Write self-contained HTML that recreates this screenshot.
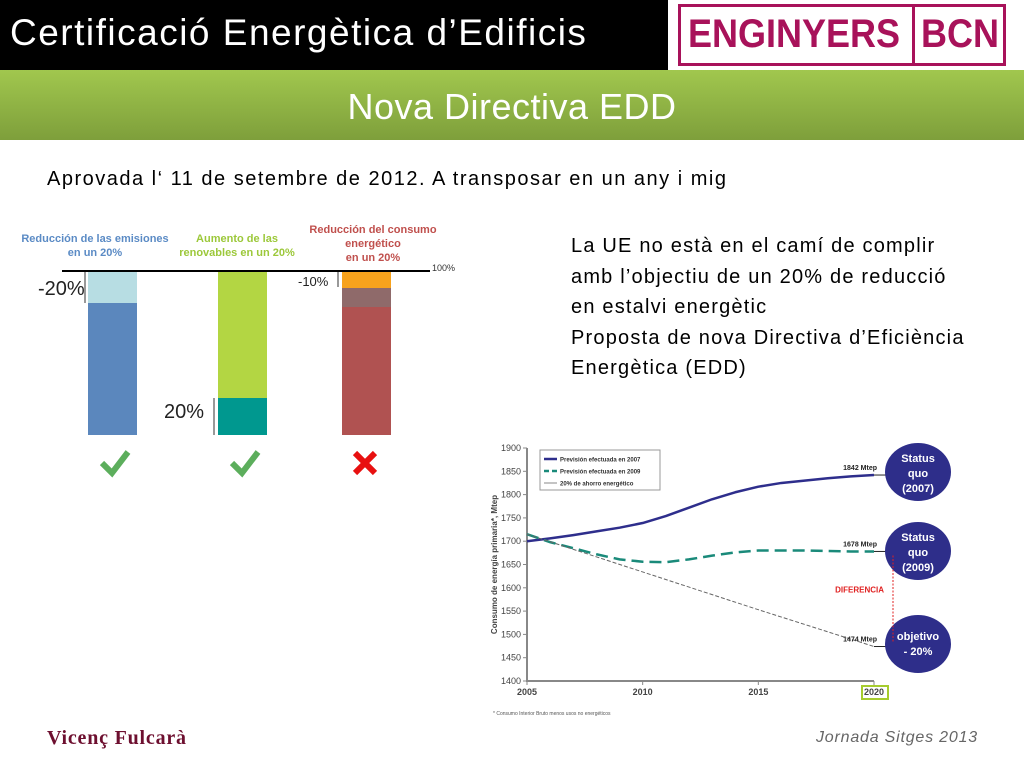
<!DOCTYPE html>
<html><head><meta charset="utf-8"><style>
body{margin:0;width:1024px;height:768px;position:relative;background:#fff;overflow:hidden;font-family:"Liberation Sans",sans-serif}
.abs{position:absolute}
</style></head><body>
<div class="abs" style="left:0;top:0;width:668px;height:70px;background:#000"></div>
<div class="abs" style="left:10px;top:12px;color:#fff;font-size:37px;letter-spacing:1.5px;white-space:nowrap">Certificació Energètica d’Edificis</div>
<div class="abs" style="left:678px;top:4px;width:328px;height:62px;border:3px solid #a8125a;box-sizing:border-box"></div>
<div class="abs" style="left:912px;top:4px;width:3px;height:62px;background:#a8125a"></div>
<div class="abs" style="left:688px;top:12px;color:#a8125a;font-weight:bold;font-size:40px;font-family:'Liberation Sans Narrow','Liberation Sans',sans-serif;transform:scaleX(0.9);transform-origin:left">ENGINYERS</div>
<div class="abs" style="left:921px;top:12px;color:#a8125a;font-weight:bold;font-size:40px;font-family:'Liberation Sans Narrow','Liberation Sans',sans-serif;transform:scaleX(0.9);transform-origin:left">BCN</div>
<div class="abs" style="left:0;top:70px;width:1024px;height:70px;background:linear-gradient(#a1c74e,#7e9f3b)"></div>
<div class="abs" style="left:0;top:86px;width:1024px;text-align:center;color:#fff;font-size:36px;letter-spacing:0.5px">Nova Directiva EDD</div>
<div class="abs" style="left:47px;top:168px;font-size:20px;letter-spacing:1.5px;white-space:nowrap;color:#000">Aprovada l‘ 11 de setembre de 2012. A transposar en un any i mig</div>
<div class="abs" style="left:571px;top:231px;font-size:20px;letter-spacing:1.2px;line-height:30.5px;white-space:nowrap;color:#000">La UE no està en el camí de complir<br>amb l’objectiu de un 20% de reducció<br>en estalvi energètic<br>Proposta de nova Directiva d’Eficiència<br>Energètica (EDD)</div>

<svg class="abs" style="left:0;top:215px" width="470" height="270" font-family="Liberation Sans, sans-serif" font-weight="bold">
<text x="95" y="27" font-size="11" fill="#5b8bc5" text-anchor="middle">Reducción de las emisiones</text>
<text x="95" y="41" font-size="11" fill="#5b8bc5" text-anchor="middle">en un 20%</text>
<text x="237" y="27" font-size="11" fill="#9cc83a" text-anchor="middle">Aumento de las</text>
<text x="237" y="41" font-size="11" fill="#9cc83a" text-anchor="middle">renovables en un 20%</text>
<text x="373" y="18" font-size="11" fill="#c0504d" text-anchor="middle">Reducción del consumo</text>
<text x="373" y="32" font-size="11" fill="#c0504d" text-anchor="middle">energético</text>
<text x="373" y="46" font-size="11" fill="#c0504d" text-anchor="middle">en un 20%</text>
<line x1="62" y1="56" x2="430" y2="56" stroke="#000" stroke-width="2"/>
<text x="432" y="56" font-size="9" font-weight="normal" fill="#333">100%</text>
<rect x="88" y="57" width="49" height="31" fill="#b7dde3"/>
<rect x="88" y="88" width="49" height="132" fill="#5b87bd"/>
<text x="38" y="80" font-size="20" font-weight="normal" fill="#222">-20%</text>
<line x1="85" y1="57" x2="85" y2="88" stroke="#333"/>
<rect x="218" y="57" width="49" height="126" fill="#b3d643"/>
<rect x="218" y="183" width="49" height="37" fill="#00988f"/>
<text x="164" y="203" font-size="20" font-weight="normal" fill="#222">20%</text>
<line x1="214" y1="183" x2="214" y2="220" stroke="#333"/>
<rect x="342" y="57" width="49" height="16" fill="#f7a21c"/>
<rect x="342" y="73" width="49" height="19" fill="#8f6a6a"/>
<rect x="342" y="92" width="49" height="128" fill="#b05251"/>
<text x="298" y="71" font-size="13" font-weight="normal" fill="#222">-10%</text>
<line x1="338" y1="57" x2="338" y2="72" stroke="#333"/>
<path d="M102 248 L112 258 L128 237" stroke="#5cae5c" stroke-width="6" fill="none"/>
<path d="M232 248 L242 258 L258 237" stroke="#5cae5c" stroke-width="6" fill="none"/>
<path d="M355 238 L375 258 M375 238 L355 258" stroke="#e81010" stroke-width="6"/>
</svg>

<svg class="abs" id="chart" style="left:0;top:0" width="1024" height="768" font-family="Liberation Sans, sans-serif"></svg>

<div class="abs" style="left:47px;top:727px;font-family:'Liberation Serif',serif;font-weight:bold;font-size:20px;letter-spacing:0.8px;color:#6d0f2f">Vicenç Fulcarà</div>
<div class="abs" style="left:816px;top:729px;font-style:italic;font-size:16px;letter-spacing:0.8px;color:#666">Jornada Sitges 2013</div>

<script>
const years = [2005,2006,2007,2008,2009,2010,2011,2012,2013,2014,2015,2016,2017,2018,2019,2020];
const prev2007 = [1700,1706,1713,1721,1729,1739,1754,1772,1790,1805,1817,1825,1830,1835,1839,1842];
const prev2009 = [1715,1698,1685,1672,1661,1656,1655,1661,1669,1676,1680,1680,1680,1679,1678,1678];
const ahorroYears = [2005,2010,2015,2020];
const ahorro = [1715,1634,1553,1474];
const yTicks = [1400,1450,1500,1550,1600,1650,1700,1750,1800,1850,1900];
const xTicks = [2005,2010,2015,2020];
const NS='http://www.w3.org/2000/svg';
const svg=document.getElementById('chart');
const X=y=>527+(y-2005)*(874-527)/15;
const Y=v=>681-(v-1400)*(681-448)/500;
function mk(t,a,txt){const e=document.createElementNS(NS,t);for(const k in a)e.setAttribute(k,a[k]);if(txt!==undefined)e.textContent=txt;svg.appendChild(e);return e;}
let ax=mk('path',{d:`M${X(2005)} ${Y(1900)} V${Y(1400)} H${X(2020)}`,stroke:'#888','stroke-width':2,fill:'none'});


yTicks.forEach(v=>{mk('line',{x1:X(2005)-4,x2:X(2005),y1:Y(v),y2:Y(v),stroke:'#888'});
const t=mk('text',{x:X(2005)-6,y:Y(v)+3,'font-size':9,'text-anchor':'end',fill:'#444'},v);

});
xTicks.forEach(v=>{mk('line',{x1:X(v),x2:X(v),y1:Y(1400),y2:Y(1400)+4,stroke:'#888'});
const t=mk('text',{x:X(v),y:Y(1400)+14,'font-size':9,'text-anchor':'middle',fill:'#444','font-weight':'bold'},v);

});
mk('rect',{x:X(2020)-12,y:Y(1400)+5,width:26,height:13,fill:'none',stroke:'#a6cc2e','stroke-width':2});
const yt=mk('text',{x:0,y:0,'font-size':8,'font-weight':'bold',fill:'#444','text-anchor':'middle',transform:`translate(497,${Y(1650)}) rotate(-90)`},'Consumo de energía primaria*, Mtep');


function smooth(xs,vs){let d=`M${X(xs[0])} ${Y(vs[0])}`;for(let i=1;i<xs.length;i++)d+=` L${X(xs[i])} ${Y(vs[i])}`;return d;}
const l1=mk('path',{d:smooth(years,prev2007),stroke:'#2e2e8c','stroke-width':2.5,fill:'none','stroke-linejoin':'round'});


const l2=mk('path',{d:smooth(years,prev2009),stroke:'#1a8a7a','stroke-width':2.5,fill:'none','stroke-dasharray':'12 6'});


const l3=mk('path',{d:smooth(ahorroYears,ahorro),stroke:'#666','stroke-width':1,fill:'none','stroke-dasharray':'4 2'});


const lg=mk('rect',{x:540,y:450,width:120,height:40,fill:'#fff',stroke:'#999'});


[['Previsión efectuada en 2007','#2e2e8c','',2.5],['Previsión efectuada en 2009','#1a8a7a','5 3',2.5],['20% de ahorro energético','#888','',1]].forEach((r,i)=>{
const yy=459+i*12;mk('line',{x1:544,x2:557,y1:yy,y2:yy,stroke:r[1],'stroke-width':r[3],'stroke-dasharray':r[2]});
const t=mk('text',{x:560,y:yy+2.5,'font-size':6,'font-weight':'bold',fill:'#333'},r[0]);

});
[[prev2007[15],'1842 Mtep',472,'Status','quo','(2007)'],[prev2009[15],'1678 Mtep',551,'Status','quo','(2009)'],[ahorro[3],'1474 Mtep',644,'objetivo','- 20%','']].forEach(a=>{
mk('text',{x:X(2020)+3,y:Y(a[0])-5,'font-size':7,'font-weight':'bold','text-anchor':'end',fill:'#222'},a[1]);
mk('line',{x1:X(2020),x2:X(2020)+12,y1:Y(a[0]),y2:Y(a[0]),stroke:'#222'});
const c=mk('ellipse',{cx:918,cy:a[2],rx:33,ry:29,fill:'#2e2e8a'});


const lines=[a[3],a[4],a[5]].filter(s=>s);const off=lines.length===3?-10:-4;
lines.forEach((s,i)=>mk('text',{x:918,y:a[2]+off+i*15,'font-size':11,'font-weight':'bold','text-anchor':'middle',fill:'#fff'},s));});
mk('line',{x1:X(2020)+19,x2:X(2020)+19,y1:Y(prev2009[15])+4,y2:Y(ahorro[3])-4,stroke:'#e02020','stroke-dasharray':'2 1.5'});
mk('text',{x:X(2020)+10,y:Y(1590),'font-size':8,'font-weight':'bold','text-anchor':'end',fill:'#e02020'},'DIFERENCIA');
mk('text',{x:493,y:715,'font-size':5,fill:'#555'},'* Consumo Interior Bruto menos usos no energéticos');
</script>
</body></html>
